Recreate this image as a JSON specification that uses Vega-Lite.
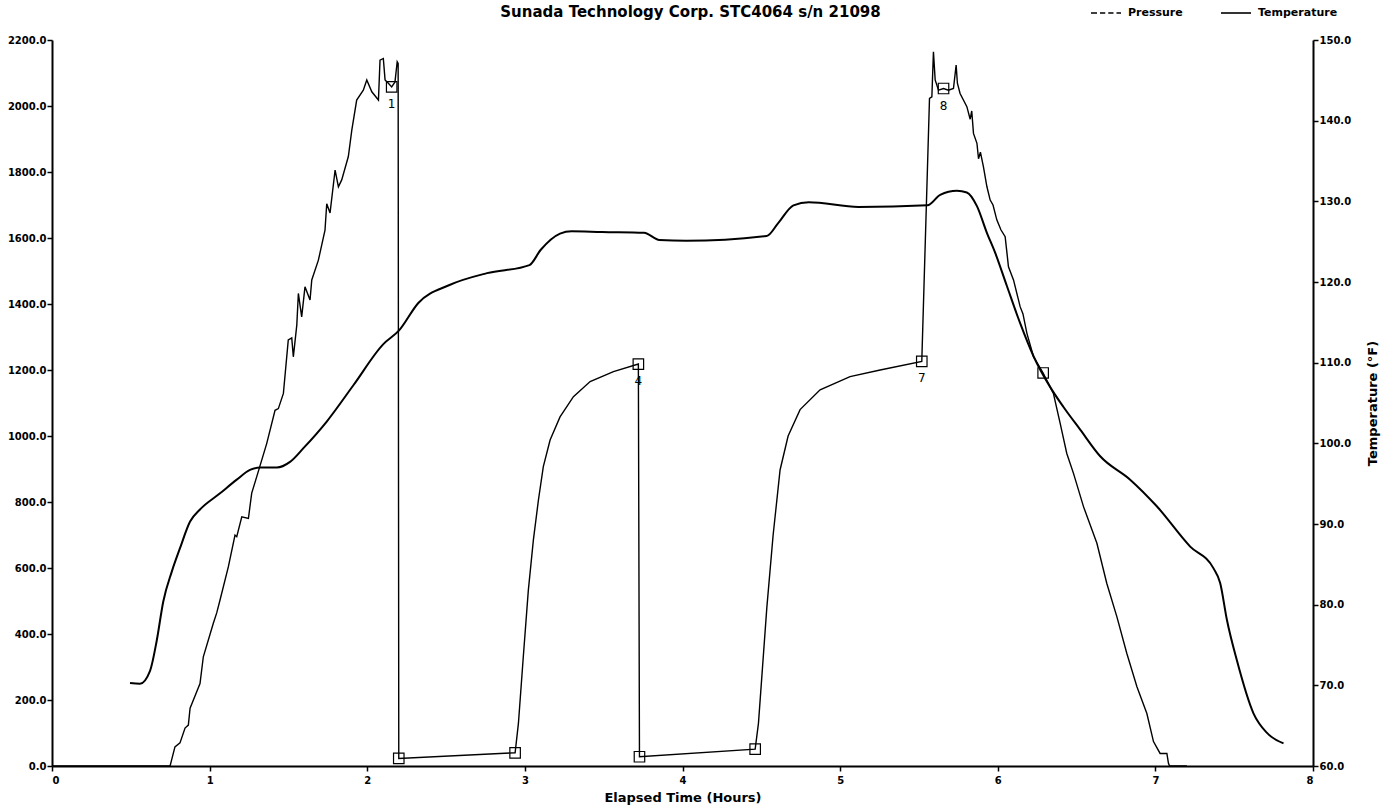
{
  "$schema": "https://vega.github.io/schema/vega-lite/v6.json",
  "width": 1261,
  "height": 726,
  "autosize": {"type": "none"},
  "padding": {"left": 52, "top": 40, "right": 68, "bottom": 42},
  "background": "white",
  "config": {
    "view": {"stroke": null},
    "font": "DejaVu Sans",
    "axis": {
      "domainColor": "black", "domainWidth": 2,
      "tickColor": "black", "tickWidth": 1.5, "tickSize": 5,
      "labelColor": "black", "labelFont": "DejaVu Sans", "labelFontSize": 10, "labelFontWeight": "bold", "labelPadding": 1,
      "grid": false,
      "titleColor": "black", "titleFont": "DejaVu Sans", "titleFontWeight": "bold", "titleFontSize": 13
    },
    "legend": {
      "labelFont": "DejaVu Sans", "labelFontSize": 11, "labelFontWeight": "bold", "labelColor": "black",
      "symbolStrokeWidth": 1.6, "symbolSize": 900, "symbolOpacity": 1, "padding": 0
    }
  },
  "title": {
    "text": "Sunada Technology Corp. STC4064 s/n 21098",
    "font": "DejaVu Sans", "fontSize": 15, "fontWeight": "bold", "color": "black",
    "anchor": "middle", "frame": "group", "offset": -23, "dx": 8
  },
  "datasets": {
    "pressure": [
      {"h": 0, "psi": 0}, {"h": 0.749, "psi": 0}, {"h": 0.78, "psi": 58}, {"h": 0.812, "psi": 70}, {"h": 0.844, "psi": 115},
      {"h": 0.865, "psi": 124}, {"h": 0.876, "psi": 175}, {"h": 0.939, "psi": 250}, {"h": 0.96, "psi": 331}, {"h": 1.023, "psi": 432},
      {"h": 1.045, "psi": 464}, {"h": 1.066, "psi": 503}, {"h": 1.119, "psi": 604}, {"h": 1.161, "psi": 700}, {"h": 1.172, "psi": 695},
      {"h": 1.204, "psi": 755}, {"h": 1.246, "psi": 750}, {"h": 1.267, "psi": 827}, {"h": 1.299, "psi": 877}, {"h": 1.362, "psi": 977},
      {"h": 1.415, "psi": 1078}, {"h": 1.436, "psi": 1083}, {"h": 1.468, "psi": 1129}, {"h": 1.499, "psi": 1291}, {"h": 1.521, "psi": 1297},
      {"h": 1.531, "psi": 1240}, {"h": 1.553, "psi": 1336}, {"h": 1.563, "psi": 1432}, {"h": 1.584, "psi": 1361}, {"h": 1.605, "psi": 1452},
      {"h": 1.637, "psi": 1412}, {"h": 1.648, "psi": 1473}, {"h": 1.69, "psi": 1533}, {"h": 1.732, "psi": 1624}, {"h": 1.743, "psi": 1704},
      {"h": 1.764, "psi": 1676}, {"h": 1.796, "psi": 1806}, {"h": 1.817, "psi": 1755}, {"h": 1.838, "psi": 1776}, {"h": 1.88, "psi": 1847},
      {"h": 1.902, "psi": 1927}, {"h": 1.933, "psi": 2018}, {"h": 1.975, "psi": 2048}, {"h": 1.997, "psi": 2079}, {"h": 2.029, "psi": 2043},
      {"h": 2.071, "psi": 2018}, {"h": 2.081, "psi": 2139}, {"h": 2.102, "psi": 2144}, {"h": 2.113, "psi": 2079}, {"h": 2.134, "psi": 2069},
      {"h": 2.155, "psi": 2058}, {"h": 2.176, "psi": 2073}, {"h": 2.19, "psi": 2134}, {"h": 2.196, "psi": 2129}, {"h": 2.2, "psi": 23},
      {"h": 2.938, "psi": 40}, {"h": 2.959, "psi": 129}, {"h": 2.99, "psi": 331}, {"h": 3.022, "psi": 533}, {"h": 3.054, "psi": 685},
      {"h": 3.086, "psi": 806}, {"h": 3.117, "psi": 907}, {"h": 3.16, "psi": 988}, {"h": 3.223, "psi": 1058}, {"h": 3.308, "psi": 1119},
      {"h": 3.414, "psi": 1165}, {"h": 3.562, "psi": 1195}, {"h": 3.72, "psi": 1218}, {"h": 3.727, "psi": 28}, {"h": 4.461, "psi": 51},
      {"h": 4.482, "psi": 130}, {"h": 4.535, "psi": 480}, {"h": 4.575, "psi": 700}, {"h": 4.619, "psi": 897}, {"h": 4.67, "psi": 1000},
      {"h": 4.746, "psi": 1080}, {"h": 4.873, "psi": 1140}, {"h": 5.063, "psi": 1180}, {"h": 5.254, "psi": 1200}, {"h": 5.518, "psi": 1226},
      {"h": 5.567, "psi": 2023}, {"h": 5.582, "psi": 2028}, {"h": 5.592, "psi": 2164}, {"h": 5.603, "psi": 2079}, {"h": 5.624, "psi": 2048},
      {"h": 5.656, "psi": 2053}, {"h": 5.687, "psi": 2048}, {"h": 5.719, "psi": 2053}, {"h": 5.736, "psi": 2124}, {"h": 5.744, "psi": 2069},
      {"h": 5.761, "psi": 2038}, {"h": 5.804, "psi": 1998}, {"h": 5.825, "psi": 1960}, {"h": 5.835, "psi": 1985}, {"h": 5.846, "psi": 1917},
      {"h": 5.868, "psi": 1887}, {"h": 5.878, "psi": 1840}, {"h": 5.89, "psi": 1860}, {"h": 5.909, "psi": 1816}, {"h": 5.931, "psi": 1756},
      {"h": 5.952, "psi": 1715}, {"h": 5.97, "psi": 1700}, {"h": 5.994, "psi": 1655}, {"h": 6.02, "psi": 1625}, {"h": 6.047, "psi": 1604},
      {"h": 6.068, "psi": 1513}, {"h": 6.1, "psi": 1473}, {"h": 6.142, "psi": 1392}, {"h": 6.16, "psi": 1370}, {"h": 6.185, "psi": 1311},
      {"h": 6.227, "psi": 1240}, {"h": 6.288, "psi": 1191}, {"h": 6.353, "psi": 1129}, {"h": 6.396, "psi": 1038}, {"h": 6.438, "psi": 947},
      {"h": 6.481, "psi": 886}, {"h": 6.544, "psi": 786}, {"h": 6.629, "psi": 675}, {"h": 6.692, "psi": 553}, {"h": 6.756, "psi": 452},
      {"h": 6.819, "psi": 341}, {"h": 6.883, "psi": 240}, {"h": 6.946, "psi": 159}, {"h": 6.988, "psi": 74}, {"h": 7.03, "psi": 38},
      {"h": 7.073, "psi": 38}, {"h": 7.083, "psi": 8}, {"h": 7.09, "psi": 0}, {"h": 7.2, "psi": 0}
    ],
    "temperature": [
      {"h": 0.495, "temp": 70.3}, {"h": 0.558, "temp": 70.2}, {"h": 0.622, "temp": 71.8}, {"h": 0.664, "temp": 75.5}, {"h": 0.706, "temp": 80.4},
      {"h": 0.76, "temp": 84.1}, {"h": 0.812, "temp": 87.0}, {"h": 0.876, "temp": 90.3}, {"h": 0.939, "temp": 91.8}, {"h": 1.066, "temp": 93.8},
      {"h": 1.172, "temp": 95.5}, {"h": 1.256, "temp": 96.7}, {"h": 1.32, "temp": 97.0}, {"h": 1.426, "temp": 97.0}, {"h": 1.51, "temp": 97.7},
      {"h": 1.595, "temp": 99.4}, {"h": 1.743, "temp": 102.7}, {"h": 1.912, "temp": 107.2}, {"h": 2.102, "temp": 112.3}, {"h": 2.202, "temp": 114.0},
      {"h": 2.324, "temp": 117.4}, {"h": 2.518, "temp": 119.6}, {"h": 2.76, "temp": 121.1}, {"h": 3.029, "temp": 122.1}, {"h": 3.101, "temp": 124.0},
      {"h": 3.223, "temp": 126.0}, {"h": 3.296, "temp": 126.3}, {"h": 3.49, "temp": 126.2}, {"h": 3.756, "temp": 126.1}, {"h": 3.854, "temp": 125.2},
      {"h": 4.023, "temp": 125.1}, {"h": 4.534, "temp": 125.7}, {"h": 4.607, "temp": 127.3}, {"h": 4.704, "temp": 129.5}, {"h": 4.801, "temp": 129.9},
      {"h": 5.117, "temp": 129.3}, {"h": 5.554, "temp": 129.5}, {"h": 5.635, "temp": 130.8}, {"h": 5.741, "temp": 131.3}, {"h": 5.804, "temp": 131.1},
      {"h": 5.868, "temp": 129.4}, {"h": 5.931, "temp": 126.1}, {"h": 5.984, "temp": 123.6}, {"h": 6.058, "temp": 119.5}, {"h": 6.142, "temp": 114.9},
      {"h": 6.227, "temp": 110.8}, {"h": 6.332, "temp": 107.0}, {"h": 6.417, "temp": 104.5}, {"h": 6.523, "temp": 101.7}, {"h": 6.65, "temp": 98.4},
      {"h": 6.84, "temp": 95.5}, {"h": 7.009, "temp": 92.2}, {"h": 7.221, "temp": 87.2}, {"h": 7.369, "temp": 84.5}, {"h": 7.411, "temp": 82.7},
      {"h": 7.454, "temp": 78.1}, {"h": 7.517, "temp": 73.1}, {"h": 7.623, "temp": 66.5}, {"h": 7.708, "temp": 64.1}, {"h": 7.813, "temp": 62.8}
    ],
    "markers": [
      {"h": 2.155, "psi": 2058}, {"h": 2.2, "psi": 23}, {"h": 2.938, "psi": 40}, {"h": 3.72, "psi": 1218}, {"h": 3.727, "psi": 28},
      {"h": 4.461, "psi": 51}, {"h": 5.518, "psi": 1226}, {"h": 5.656, "psi": 2053}, {"h": 6.288, "psi": 1191}
    ],
    "labels": [
      {"h": 2.155, "psi": 2058, "label": "1"}, {"h": 3.72, "psi": 1218, "label": "4"},
      {"h": 5.518, "psi": 1226, "label": "7"}, {"h": 5.656, "psi": 2053, "label": "8"}
    ],
    "legend": [
      {"h": 4, "psi": 1000, "series": "Pressure"}, {"h": 4, "psi": 1000, "series": "Temperature"}
    ]
  },
  "encoding": {
    "x": {
      "field": "h", "type": "quantitative",
      "scale": {"domain": [0, 8], "nice": false, "zero": false},
      "axis": {"values": [0, 1, 2, 3, 4, 5, 6, 7, 8], "format": "d", "title": "Elapsed Time (Hours)", "labelPadding": 4, "titlePadding": 6}
    }
  },
  "layer": [
    {
      "encoding": {
        "y": {
          "field": "psi", "type": "quantitative",
          "scale": {"domain": [0, 2200], "nice": false, "zero": false},
          "axis": {"orient": "left", "values": [0, 200, 400, 600, 800, 1000, 1200, 1400, 1600, 1800, 2000, 2200], "format": ".1f", "title": null}
        }
      },
      "layer": [
        {
          "data": {"name": "pressure"},
          "mark": {"type": "line", "color": "black", "strokeWidth": 1.4}
        },
        {
          "data": {"name": "markers"},
          "mark": {"type": "point", "shape": "square", "size": 110, "filled": false, "color": "black", "strokeWidth": 1.2, "opacity": 1}
        },
        {
          "data": {"name": "labels"},
          "mark": {"type": "text", "dy": 17, "fontSize": 12, "font": "DejaVu Sans", "color": "black"},
          "encoding": {"text": {"field": "label", "type": "nominal"}}
        },
        {
          "data": {"name": "legend"},
          "mark": {"type": "point", "filled": false, "color": "black", "opacity": 0},
          "encoding": {
            "shape": {
              "field": "series", "type": "nominal",
              "scale": {"domain": ["Pressure", "Temperature"], "range": ["M-1,0H-0.6M-0.4,0H-0.05M0.15,0H0.5M0.7,0H1", "M-1,0H1"]},
              "legend": {"title": null, "orient": "none", "direction": "horizontal", "legendX": 1038, "legendY": -43, "labelOffset": 6, "columnPadding": 34}
            }
          }
        }
      ]
    },
    {
      "data": {"name": "temperature"},
      "mark": {"type": "line", "color": "black", "strokeWidth": 2, "interpolate": "monotone"},
      "encoding": {
        "y": {
          "field": "temp", "type": "quantitative",
          "scale": {"domain": [60, 150], "nice": false, "zero": false},
          "axis": {"orient": "right", "values": [60, 70, 80, 90, 100, 110, 120, 130, 140, 150], "format": ".1f", "title": "Temperature (°F)", "titleAngle": 270, "titlePadding": 29}
        }
      }
    }
  ],
  "resolve": {"scale": {"y": "independent"}}
}
